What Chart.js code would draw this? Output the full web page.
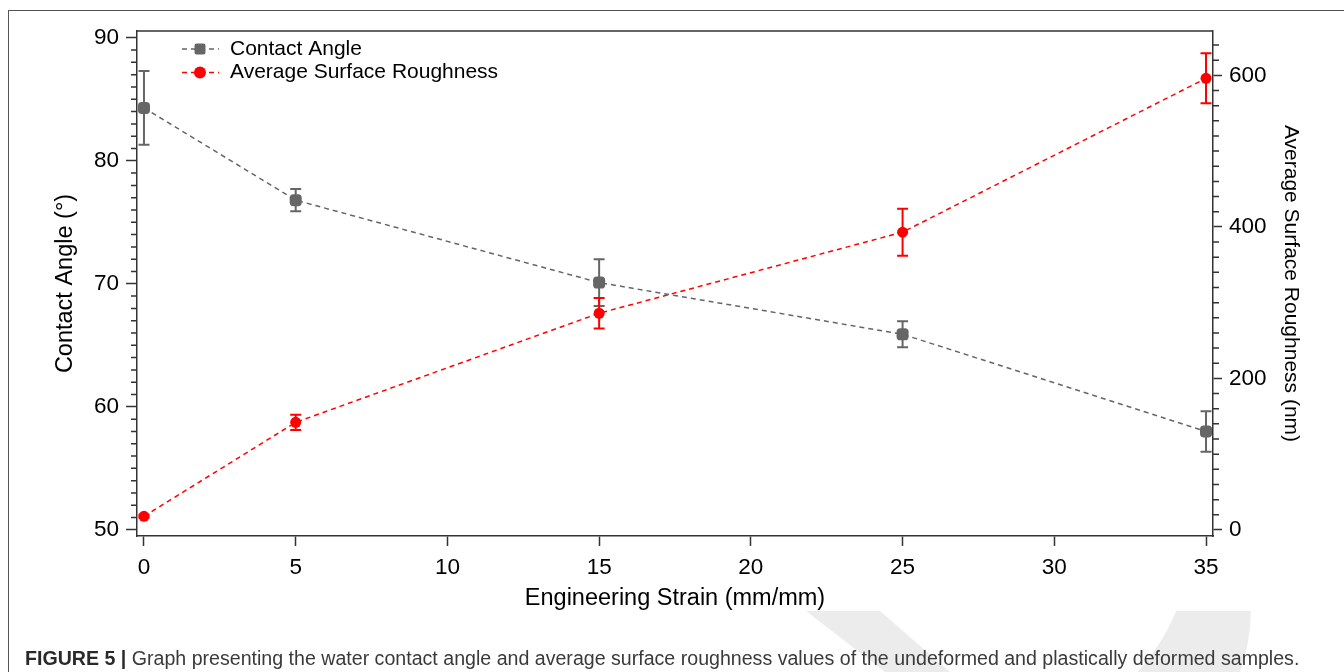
<!DOCTYPE html>
<html>
<head>
<meta charset="utf-8">
<script src="https://cdn.jsdelivr.net/npm/chart.js@4.4.1/dist/chart.umd.min.js"></script>
<style>
  html, body { margin: 0; padding: 0; background: #fff; width: 1344px; height: 672px; overflow: hidden; }
  #frame { position: absolute; left: 8px; top: 10px; width: 1400px; height: 700px; border-left: 1.5px solid #555; border-top: 1.5px solid #555; }
  #wm { position: absolute; left: 0; top: 0; }
  #c { position: absolute; left: 0; top: 0; }
  #caption { position: absolute; left: 25px; top: 647px; font-family: "Liberation Sans", Arial, sans-serif; font-size: 19.6px; color: #3a3a3a; white-space: nowrap; }
  #caption b { color: #2a2a2a; }
</style>
</head>
<body>
<svg id="wm" width="1344" height="672">
  <path d="M806 611 L880 611 L950 672 L885 672 Z" fill="#ececec"/>
  <path d="M1176 611 L1251 611 Q1250 645 1240 672 L1138 672 Q1165 640 1176 611 Z" fill="#ececec"/>
</svg>
<div id="frame"></div>
<canvas id="c" width="1344" height="672"></canvas>
<div id="caption"><b>FIGURE 5 |</b> Graph presenting the water contact angle and average surface roughness values of the undeformed and plastically deformed samples.</div>
<script>
// ---- data ----
const strain = [0, 5, 15, 25, 35];
const contactAngle = [84.3, 76.8, 70.1, 65.9, 58.0];
const contactAngleErr = [3.0, 0.9, 1.9, 1.05, 1.65];
const roughness = [18, 142, 286, 393, 596];
const roughnessErr = [2, 10, 20, 31, 33];
const xTicks = [0, 5, 10, 15, 20, 25, 30, 35];
const leftTicks = [50, 60, 70, 80, 90];
const rightTicks = [0, 200, 400, 600];
const seriesNames = ['Contact Angle', 'Average Surface Roughness'];

const FONT = '"Liberation Sans", Arial, sans-serif';
const GREY = '#666666';
const RED = '#ff0000';
const AXIS = '#333333';

const errorBars = {
  id: 'errorBars',
  beforeDatasetsDraw(chart) {
    const ctx = chart.ctx;
    const xs = chart.scales.x;
    const errs = [contactAngleErr, roughnessErr];
    chart.data.datasets.forEach((ds, i) => {
      const ys = chart.scales[ds.yAxisID];
      ctx.save();
      ctx.strokeStyle = ds.borderColor;
      ctx.lineWidth = 2;
      ds.data.forEach((p, j) => {
        const e = errs[i][j];
        const x = xs.getPixelForValue(p.x);
        const y1 = ys.getPixelForValue(p.y + e);
        const y2 = ys.getPixelForValue(p.y - e);
        ctx.beginPath();
        ctx.moveTo(x, y1); ctx.lineTo(x, y2);
        ctx.moveTo(x - 5.5, y1); ctx.lineTo(x + 5.5, y1);
        ctx.moveTo(x - 5.5, y2); ctx.lineTo(x + 5.5, y2);
        ctx.stroke();
      });
      ctx.restore();
    });
  }
};

const frameAndMinor = {
  id: 'frameAndMinor',
  afterDraw(chart) {
    const ctx = chart.ctx;
    const a = chart.chartArea;
    const yl = chart.scales.y, yr = chart.scales.y2;
    ctx.save();
    ctx.strokeStyle = AXIS;
    ctx.lineWidth = 1.5;
    ctx.beginPath();
    ctx.moveTo(a.left, a.top); ctx.lineTo(a.right, a.top);
    for (let v = 50; v <= 90; v += 1) {
      if (v % 10 === 0) continue;
      const y = yl.getPixelForValue(v);
      ctx.moveTo(a.left, y); ctx.lineTo(a.left - 6, y);
    }
    for (let v = 0; v <= 640; v += 20) {
      if (v % 200 === 0) continue;
      const y = yr.getPixelForValue(v);
      ctx.moveTo(a.right, y); ctx.lineTo(a.right + 6, y);
    }
    ctx.stroke();
    ctx.restore();
  }
};

const customLegend = {
  id: 'customLegend',
  afterDraw(chart) {
    const ctx = chart.ctx;
    chart.data.datasets.forEach((ds, i) => {
      const y = 49 + i * 23.5;
      ctx.save();
      ctx.strokeStyle = ds.borderColor;
      ctx.lineWidth = 1.5;
      ctx.setLineDash([5, 4]);
      ctx.beginPath();
      ctx.moveTo(182, y); ctx.lineTo(219, y);
      ctx.stroke();
      ctx.setLineDash([]);
      ctx.fillStyle = ds.backgroundColor;
      if (i === 0) {
        ctx.beginPath();
        ctx.roundRect(194.5, y - 5.5, 11, 11, 2);
        ctx.fill();
      } else {
        ctx.beginPath();
        ctx.arc(200, y, 6, 0, Math.PI * 2);
        ctx.fill();
      }
      ctx.fillStyle = '#000';
      ctx.font = '21px ' + FONT;
      ctx.textBaseline = 'middle';
      ctx.fillText(seriesNames[i], 230, y);
      ctx.restore();
    });
  }
};

new Chart(document.getElementById('c'), {
  type: 'scatter',
  data: {
    datasets: [
      {
        label: seriesNames[0],
        data: strain.map((x, i) => ({ x, y: contactAngle[i] })),
        yAxisID: 'y',
        showLine: true,
        borderColor: GREY,
        backgroundColor: GREY,
        borderWidth: 1.5,
        borderDash: [5, 4],
        pointStyle: 'rectRounded',
        pointRadius: 7,
        pointBorderWidth: 0,
        pointBackgroundColor: GREY
      },
      {
        label: seriesNames[1],
        data: strain.map((x, i) => ({ x, y: roughness[i] })),
        yAxisID: 'y2',
        showLine: true,
        borderColor: RED,
        backgroundColor: RED,
        borderWidth: 1.5,
        borderDash: [5, 4],
        pointStyle: 'circle',
        pointRadius: 5.5,
        pointBorderWidth: 0,
        pointBackgroundColor: RED
      }
    ]
  },
  options: {
    responsive: false,
    animation: false,
    events: [],
    layout: { padding: { top: 31, left: 0, right: 0, bottom: 57 } },
    plugins: { legend: { display: false }, tooltip: { enabled: false } },
    scales: {
      x: {
        type: 'linear',
        min: -0.23, max: 35.23,
        afterBuildTicks: s => { s.ticks = xTicks.map(v => ({ value: v })); },
        afterFit: s => { s.height = 79; },
        grid: { drawOnChartArea: false, drawTicks: true, tickLength: 10, tickColor: AXIS, tickWidth: 1.5 },
        border: { display: true, color: AXIS, width: 1.5 },
        ticks: { color: '#000', font: { family: FONT, size: 22.5 }, padding: 8, maxRotation: 0 },
        title: { display: true, text: 'Engineering Strain (mm/mm)', color: '#000', font: { family: FONT, size: 23.5 }, padding: { top: 0, bottom: 2 } }
      },
      y: {
        type: 'linear', position: 'left',
        min: 49.5, max: 90.55,
        afterBuildTicks: s => { s.ticks = leftTicks.map(v => ({ value: v })); },
        afterFit: s => { s.width = 137; },
        grid: { drawOnChartArea: false, drawTicks: true, tickLength: 11, tickColor: AXIS, tickWidth: 1.5 },
        border: { display: true, color: AXIS, width: 1.5 },
        ticks: { color: '#000', font: { family: FONT, size: 22.5 }, padding: 7 },
        title: { display: true, text: 'Contact Angle (°)', color: '#000', font: { family: FONT, size: 23.5 }, padding: { top: 51, bottom: 0 } }
      },
      y2: {
        type: 'linear', position: 'right',
        min: -8, max: 658.5,
        afterBuildTicks: s => { s.ticks = rightTicks.map(v => ({ value: v })); },
        afterFit: s => { s.width = 131; },
        grid: { drawOnChartArea: false, drawTicks: true, tickLength: 9, tickColor: AXIS, tickWidth: 1.5 },
        border: { display: true, color: AXIS, width: 1.5 },
        ticks: { color: '#000', font: { family: FONT, size: 22.5 }, padding: 7 },
        title: { display: true, text: 'Average Surface Roughness (nm)', color: '#000', font: { family: FONT, size: 21 }, padding: { top: 41, bottom: 0 } }
      }
    }
  },
  plugins: [errorBars, frameAndMinor, customLegend]
});
</script>
</body>
</html>
